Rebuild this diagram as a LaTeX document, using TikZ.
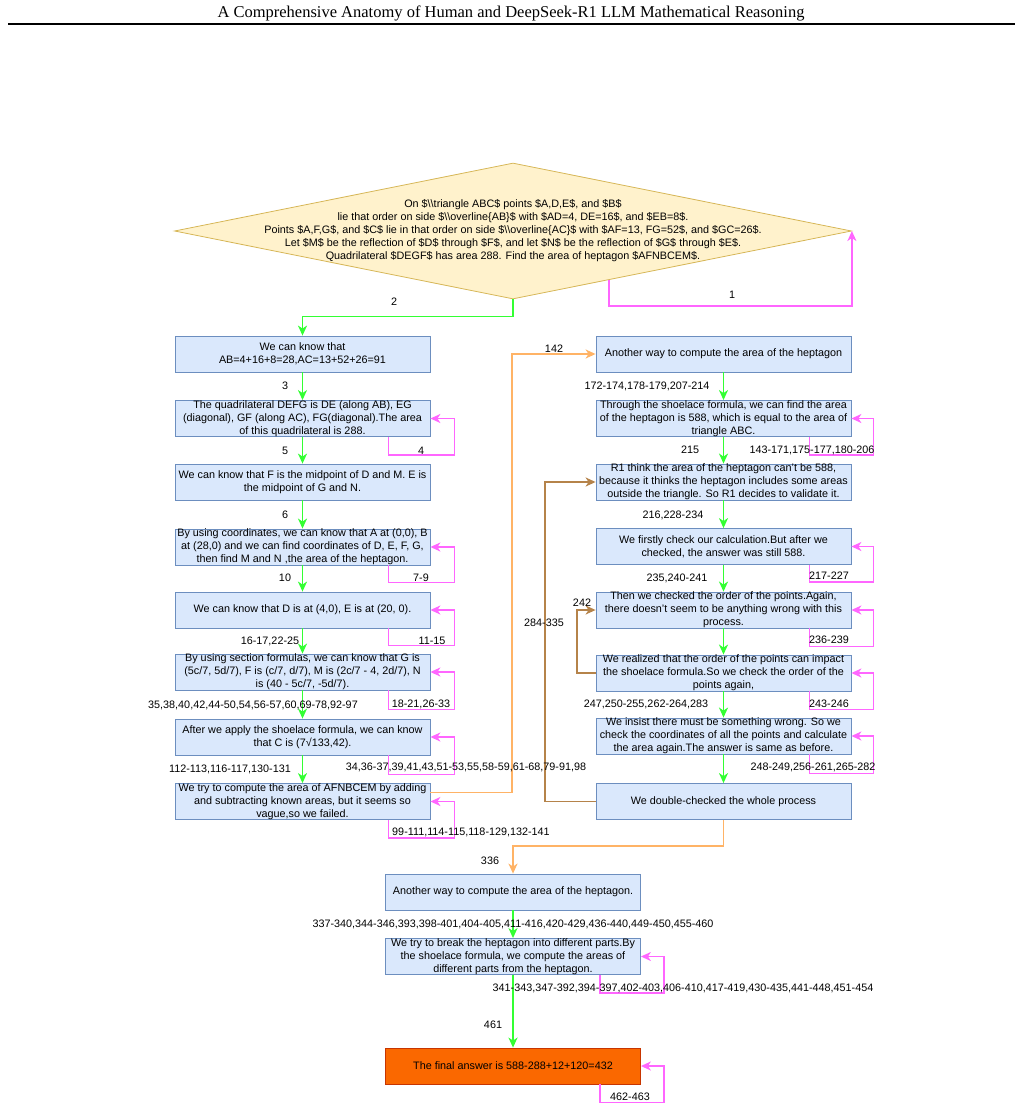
\documentclass[tikz,border=0pt]{standalone}
\usepackage{fontspec}
\setmainfont{Liberation Sans}
\newfontfamily\titlefont{Liberation Serif}
\usetikzlibrary{arrows.meta,shapes.geometric,calc}

\definecolor{boxfill}{HTML}{DAE8FC}
\definecolor{boxline}{HTML}{6C8EBF}
\definecolor{qfill}{HTML}{FFF2CC}
\definecolor{qline}{HTML}{D6B656}
\definecolor{finalfill}{HTML}{FA6800}
\definecolor{finalline}{HTML}{C73500}
\definecolor{goline}{HTML}{33FF33}
\definecolor{loopline}{HTML}{FF66FF}
\definecolor{jumpline}{HTML}{FFB366}
\definecolor{backline}{HTML}{B5834A}

\newcommand\dbs{\textbackslash\textbackslash}
\newcommand\diagfont{\fontsize{10.8}{13}\selectfont}

\tikzset{
  stepbox/.style={draw=boxline, fill=boxfill, line width=0.8pt, minimum width=255pt,
    minimum height=36pt, inner sep=0pt, align=center, font=\diagfont},
  finalbox/.style={stepbox, draw=finalline, fill=finalfill},
  numlabel/.style={font=\diagfont, inner sep=0pt},
  tipped/.style={line width=1.8pt, -{Stealth[length=10pt,width=9pt,inset=3pt]}},
  goarrow/.style={tipped, draw=goline},
  selfarc/.style={tipped, draw=loopline},
  jumparrow/.style={tipped, draw=jumpline},
  backarrow/.style={tipped, draw=backline}
}

\begin{document}
\begin{tikzpicture}[x=1pt,y=-1pt]
\useasboundingbox (0,0) rectangle (1022,1110);

% header
\node[font=\titlefont\fontsize{16.5}{20}\selectfont] (title) at (511,13)
  {A Comprehensive Anatomy of Human and DeepSeek-R1 LLM Mathematical Reasoning};
\draw[line width=1.6pt] (8,24) -- (1015,24);

% problem
\node[diamond, draw=qline, fill=qfill, line width=0.8pt, inner sep=0pt,
  minimum width=677pt, minimum height=136pt] (q) at (513,231) {};
\node[numlabel, align=center] (qtext) at (q.center)
  {On \$\dbs triangle ABC\$ points \$A,D,E\$, and \$B\$\\
   lie that order on side \$\dbs overline\{AB\}\$ with \$AD=4, DE=16\$, and \$EB=8\$.\\
   Points \$A,F,G\$, and \$C\$ lie in that order on side \$\dbs overline\{AC\}\$ with \$AF=13, FG=52\$, and \$GC=26\$.\\
   Let \$M\$ be the reflection of \$D\$ through \$F\$, and let \$N\$ be the reflection of \$G\$ through \$E\$.\\
   Quadrilateral \$DEGF\$ has area 288. Find the area of heptagon \$AFNBCEM\$.};

% left column
\node[stepbox] (b1) at (302.5,354) {We can know that\\AB=4+16+8=28,AC=13+52+26=91};
\node[stepbox] (b2) at (302.5,418.5) {The quadrilateral DEFG is DE (along AB), EG\\(diagonal), GF (along AC), FG(diagonal).The area\\of this quadrilateral is 288.};
\node[stepbox] (b3) at (302.5,482) {We can know that F is the midpoint of D and M. E is\\the midpoint of G and N.};
\node[stepbox] (b4) at (302.5,547) {By using coordinates, we can know that A at (0,0), B\\at (28,0) and we can find coordinates of D, E, F, G,\\then find M and N ,the area of the heptagon.};
\node[stepbox] (b5) at (302.5,610) {We can know that D is at (4,0), E is at (20, 0).};
\node[stepbox] (b6) at (302.5,672) {By using section formulas, we can know that G is\\(5c/7, 5d/7), F is (c/7, d/7), M is (2c/7 - 4, 2d/7), N\\is (40 - 5c/7, -5d/7).};
\node[stepbox] (b7) at (302.5,737) {After we apply the shoelace formula, we can know\\that C is (7√133,42).};
\node[stepbox] (b8) at (302.5,801.5) {We try to compute the area of AFNBCEM by adding\\and subtracting known areas, but it seems so\\vague,so we failed.};

% right column
\node[stepbox] (r1) at (723.5,354) {Another way to compute the area of the heptagon};
\node[stepbox] (r2) at (723.5,418.5) {Through the shoelace formula, we can find the area\\of the heptagon is 588, which is equal to the area of\\triangle ABC.};
\node[stepbox] (r3) at (723.5,482) {R1 think the area of the heptagon can't be 588,\\because it thinks the heptagon includes some areas\\outside the triangle. So R1 decides to validate it.};
\node[stepbox] (r4) at (723.5,546.5) {We firstly check our calculation.But after we\\checked, the answer was still 588.};
\node[stepbox] (r5) at (723.5,610) {Then we checked the order of the points.Again,\\there doesn't seem to be anything wrong with this\\process.};
\node[stepbox] (r6) at (723.5,673) {We realized that the order of the points can impact\\the shoelace formula.So we check the order of the\\points again,};
\node[stepbox] (r7) at (723.5,736) {We insist there must be something wrong. So we\\check the coordinates of all the points and calculate\\the area again.The answer is same as before.};
\node[stepbox] (r8) at (723.5,801.5) {We double-checked the whole process};

% bottom
\node[stepbox] (c1) at (513,892) {Another way to compute the area of the heptagon.};
\node[stepbox] (c2) at (513,956.5) {We try to break the heptagon into different parts.By\\the shoelace formula, we compute the areas of\\different parts from the heptagon.};
\node[finalbox] (c3) at (513,1066) {The final answer is 588-288+12+120=432};

% forward steps
\draw[goarrow] (q.south) -- ++(0,17) -| (b1.north);
\draw[goarrow] (b1) -- (b2);
\draw[goarrow] (b2) -- (b3);
\draw[goarrow] (b3) -- (b4);
\draw[goarrow] (b4) -- (b5);
\draw[goarrow] (b5) -- (b6);
\draw[goarrow] (b6) -- (b7);
\draw[goarrow] (b7) -- (b8);
\draw[goarrow] (r1) -- (r2);
\draw[goarrow] (r2) -- (r3);
\draw[goarrow] (r3) -- (r4);
\draw[goarrow] (r4) -- (r5);
\draw[goarrow] (r5) -- (r6);
\draw[goarrow] (r6) -- (r7);
\draw[goarrow] (r7) -- (r8);
\draw[goarrow] (c1) -- (c2);
\draw[goarrow] (c2) -- (c3);

% self loops
\coordinate (qloop) at ($(q.south)!0.284!(q.east)$);
\draw[selfarc] (qloop) -- ++(0,26) -| (q.east);
\draw[selfarc] ([xshift=-42pt]b2.south east) -- ++(0,18) -| ([xshift=24pt]b2.east) -- (b2.east);
\draw[selfarc] ([xshift=-42pt]b4.south east) -- ++(0,17) -| ([xshift=24pt]b4.east) -- (b4.east);
\draw[selfarc] ([xshift=-42pt]b5.south east) -- ++(0,17) -| ([xshift=24pt]b5.east) -- (b5.east);
\draw[selfarc] ([xshift=-42pt]b6.south east) -- ++(0,19) -| ([xshift=24pt]b6.east) -- (b6.east);
\draw[selfarc] ([xshift=-42pt]b7.south east) -- ++(0,19) -| ([xshift=24pt]b7.east) -- (b7.east);
\draw[selfarc] ([xshift=-42pt]b8.south east) -- ++(0,18) -| ([xshift=24pt]b8.east) -- (b8.east);
\draw[selfarc] ([xshift=-42pt]r2.south east) -- ++(0,18) -| ([xshift=22pt]r2.east) -- (r2.east);
\draw[selfarc] ([xshift=-42pt]r4.south east) -- ++(0,17) -| ([xshift=22pt]r4.east) -- (r4.east);
\draw[selfarc] ([xshift=-42pt]r5.south east) -- ++(0,18) -| ([xshift=22pt]r5.east) -- (r5.east);
\draw[selfarc] ([xshift=-42pt]r6.south east) -- ++(0,18) -| ([xshift=22pt]r6.east) -- (r6.east);
\draw[selfarc] ([xshift=-42pt]r7.south east) -- ++(0,19) -| ([xshift=22pt]r7.east) -- (r7.east);
\draw[selfarc] ([xshift=-41pt]c2.south east) -- ++(0,18) -| ([xshift=23pt]c2.east) -- (c2.east);
\draw[selfarc] ([xshift=-41pt]c3.south east) -- ++(0,18) -| ([xshift=23pt]c3.east) -- (c3.east);

% jumps to another way
\coordinate (jump) at (512,354);
\draw[jumparrow] ([yshift=9pt]b8.east) -| (jump) -- (r1.west);
\coordinate (merge) at (513,846);
\draw[jumparrow] (r8.south) |- (merge) -- (c1.north);

% re-checks
\coordinate (recheck) at (545,482);
\draw[backarrow] (r8.west) -| (recheck) -- (r3.west);
\coordinate (reorder) at (577,610);
\draw[backarrow] (r6.west) -| (reorder) -- (r5.west);

% step numbers
\node[numlabel] (n2) at (394,302) {2};
\node[numlabel] (n1) at (732,295) {1};
\node[numlabel] (n3) at (285,386) {3};
\node[numlabel] (n4) at (421,451) {4};
\node[numlabel] (n5) at (285,451) {5};
\node[numlabel] (n6) at (285,515) {6};
\node[numlabel] (n7) at (421,578) {7-9};
\node[numlabel] (n10) at (285,578) {10};
\node[numlabel] (n11) at (432,641) {11-15};
\node[numlabel] (n16) at (270,641) {16-17,22-25};
\node[numlabel] (n18) at (421,704) {18-21,26-33};
\node[numlabel] (n35) at (253,705) {35,38,40,42,44-50,54,56-57,60,69-78,92-97};
\node[numlabel] (n34) at (466,767) {34,36-37,39,41,43,51-53,55,58-59,61-68,79-91,98};
\node[numlabel] (n112) at (230,769) {112-113,116-117,130-131};
\node[numlabel] (n99) at (471,832) {99-111,114-115,118-129,132-141};
\node[numlabel] (n142) at (554,349) {142};
\node[numlabel] (n172) at (647,386) {172-174,178-179,207-214};
\node[numlabel] (n143) at (812,450) {143-171,175-177,180-206};
\node[numlabel] (n215) at (690,450) {215};
\node[numlabel] (n216) at (673,515) {216,228-234};
\node[numlabel] (n217) at (829,576) {217-227};
\node[numlabel] (n235) at (677,578) {235,240-241};
\node[numlabel] (n236) at (829,640) {236-239};
\node[numlabel] (n242) at (582,603) {242};
\node[numlabel] (n284) at (544,623) {284-335};
\node[numlabel] (n243) at (829,704) {243-246};
\node[numlabel] (n247) at (646,704) {247,250-255,262-264,283};
\node[numlabel] (n248) at (813,767) {248-249,256-261,265-282};
\node[numlabel] (n336) at (490,861) {336};
\node[numlabel] (n337) at (513,924) {337-340,344-346,393,398-401,404-405,411-416,420-429,436-440,449-450,455-460};
\node[numlabel] (n341) at (683,988) {341-343,347-392,394-397,402-403,406-410,417-419,430-435,441-448,451-454};
\node[numlabel] (n461) at (493,1025) {461};
\node[numlabel] (n462) at (630,1097) {462-463};
\end{tikzpicture}
\end{document}
